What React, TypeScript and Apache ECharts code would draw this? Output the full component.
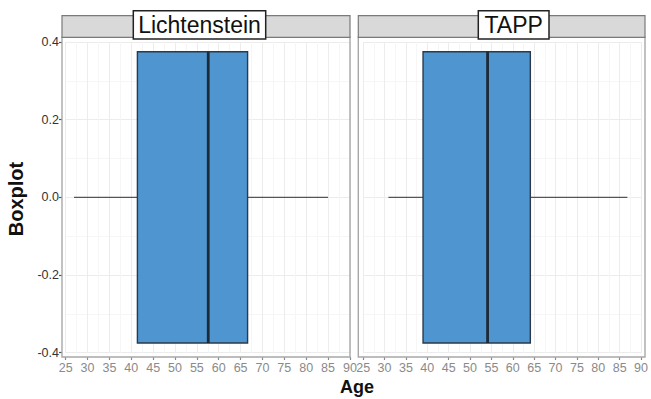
import React, { useEffect, useRef } from "react";
import * as echarts from "echarts";

// ---- data ----
const panels = ["Lichtenstein", "TAPP"];
// [min, Q1, median, Q3, max] of Age per panel
const boxStats = [
  [26.9, 41.4, 57.6, 66.6, 85.0],
  [30.9, 39.0, 54.1, 64.1, 86.8],
];
const xMin = 25;
const xMax = 90;
const xStep = 5;
const yMin = -0.4;
const yMax = 0.4;
const yStep = 0.2;
const boxHalf = 0.375;
const xTitle = "Age";
const yTitle = "Boxplot";

// ---- layout ----
const gridPos = [
  { left: 65.7, width: 284.2 },
  { left: 363.2, width: 283.7 },
];
const panelRects = [
  { x: 62, w: 288 },
  { x: 358.3, w: 286.7 },
];
const labelBoxes = [
  { x: 133.3, w: 132.4, cx: 199.5 },
  { x: 478.3, w: 70.7, cx: 513.7 },
];
const GRID_TOP = 42;
const GRID_H = 310.7;
const PANEL_TOP = 37.3;
const PANEL_BOTTOM = 357;
const STRIP_TOP = 15.7;

const FONT = "Liberation Sans, Arial, Helvetica, sans-serif";

export default function App() {
  const ref = useRef<HTMLDivElement>(null);
  useEffect(() => {
    document.body.style.margin = "0";
    if (!ref.current) return;
    const chart = echarts.init(ref.current, null, { renderer: "svg" });

    const grids = gridPos.map((g) => ({
      left: g.left,
      top: GRID_TOP,
      width: g.width,
      height: GRID_H,
      containLabel: false,
    }));

    const xAxes = panels.map((_, i) => ({
      type: "value",
      gridIndex: i,
      position: "bottom",
      min: xMin,
      max: xMax,
      interval: xStep,
      offset: PANEL_BOTTOM - (GRID_TOP + GRID_H),
      axisLine: { show: false, onZero: false },
      axisTick: { show: true, length: 3, lineStyle: { color: "#8a8a8a", width: 1.2 } },
      axisLabel: { color: "#8a8a8a", fontSize: 12.5, fontFamily: FONT, margin: 4 },
      splitLine: { show: true, lineStyle: { color: "#ececec", width: 1 } },
      minorTick: { show: false, splitNumber: 2 },
      minorSplitLine: { show: true, lineStyle: { color: "#f6f6f6", width: 1 } },
    }));

    const yAxes = panels.map((_, i) => ({
      type: "value",
      gridIndex: i,
      position: "left",
      min: yMin,
      max: yMax,
      interval: yStep,
      offset: i === 0 ? gridPos[0].left - panelRects[0].x : 0,
      axisLine: { show: false, onZero: false },
      axisTick: { show: i === 0, length: 3, lineStyle: { color: "#555", width: 1.2 } },
      axisLabel: {
        show: i === 0,
        color: "#333",
        fontSize: 12.5,
        fontFamily: FONT,
        margin: 3,
        formatter: (v: number) => v.toFixed(1),
      },
      splitLine: { show: true, lineStyle: { color: "#ececec", width: 1 } },
      minorTick: { show: false, splitNumber: 2 },
      minorSplitLine: { show: true, lineStyle: { color: "#f6f6f6", width: 1 } },
    }));

    const series = panels.map((name, i) => ({
      type: "custom",
      name,
      xAxisIndex: i,
      yAxisIndex: i,
      data: [boxStats[i]],
      renderItem: (params: any, api: any) => {
        const mn = api.value(0);
        const q1 = api.value(1);
        const md = api.value(2);
        const q3 = api.value(3);
        const mx = api.value(4);
        const pTop = api.coord([q1, boxHalf]);
        const pBot = api.coord([q3, -boxHalf]);
        const pMin = api.coord([mn, 0]);
        const pQ1 = api.coord([q1, 0]);
        const pQ3 = api.coord([q3, 0]);
        const pMax = api.coord([mx, 0]);
        const pMed = api.coord([md, 0]);
        const whisk = { stroke: "#555", lineWidth: 1.4 };
        return {
          type: "group",
          children: [
            { type: "line", shape: { x1: pMin[0], y1: pMin[1], x2: pQ1[0], y2: pQ1[1] }, style: whisk },
            { type: "line", shape: { x1: pQ3[0], y1: pQ3[1], x2: pMax[0], y2: pMax[1] }, style: whisk },
            {
              type: "rect",
              shape: { x: pTop[0], y: pTop[1], width: pBot[0] - pTop[0], height: pBot[1] - pTop[1] },
              style: { fill: "#4f95d0", stroke: "#2b3a4a", lineWidth: 1.4 },
            },
            {
              type: "line",
              shape: { x1: pMed[0], y1: pTop[1], x2: pMed[0], y2: pBot[1] },
              style: { stroke: "#1d2a38", lineWidth: 2.8 },
            },
          ],
        };
      },
    }));

    const graphic: any[] = [];
    panels.forEach((name, i) => {
      const p = panelRects[i];
      graphic.push({
        type: "rect",
        z: 10,
        shape: { x: p.x, y: PANEL_TOP, width: p.w, height: PANEL_BOTTOM - PANEL_TOP },
        style: { fill: "none", stroke: "#a8a8a8", lineWidth: 1.4 },
      });
      graphic.push({
        type: "rect",
        z: 10,
        shape: { x: p.x, y: STRIP_TOP, width: p.w, height: PANEL_TOP - STRIP_TOP },
        style: { fill: "#d9d9d9", stroke: "#7a7a7a", lineWidth: 1.2 },
      });
      const b = labelBoxes[i];
      graphic.push({
        type: "rect",
        z: 11,
        shape: { x: b.x, y: 10.7, width: b.w, height: 28.3 },
        style: { fill: "#fff", stroke: "#222", lineWidth: 1.5 },
      });
      graphic.push({
        type: "text",
        z: 12,
        x: b.cx,
        y: 25,
        style: {
          text: name,
          fill: "#111",
          font: `23px ${FONT}`,
          align: "center",
          verticalAlign: "middle",
        },
      });
    });
    graphic.push({
      type: "text",
      x: 357,
      y: 387,
      style: {
        text: xTitle,
        fill: "#111",
        font: `bold 18px ${FONT}`,
        align: "center",
        verticalAlign: "middle",
      },
    });
    graphic.push({
      type: "text",
      x: 16,
      y: 199,
      rotation: Math.PI / 2,
      style: {
        text: yTitle,
        fill: "#111",
        font: `bold 20px ${FONT}`,
        align: "center",
        verticalAlign: "middle",
      },
    });

    chart.setOption({
      animation: false,
      backgroundColor: "#fff",
      grid: grids,
      xAxis: xAxes,
      yAxis: yAxes,
      series,
      graphic,
    });
    return () => chart.dispose();
  }, []);
  return (
    <div
      ref={ref}
      style={{ position: "absolute", left: 0, top: 0, width: 651, height: 399 }}
    />
  );
}
